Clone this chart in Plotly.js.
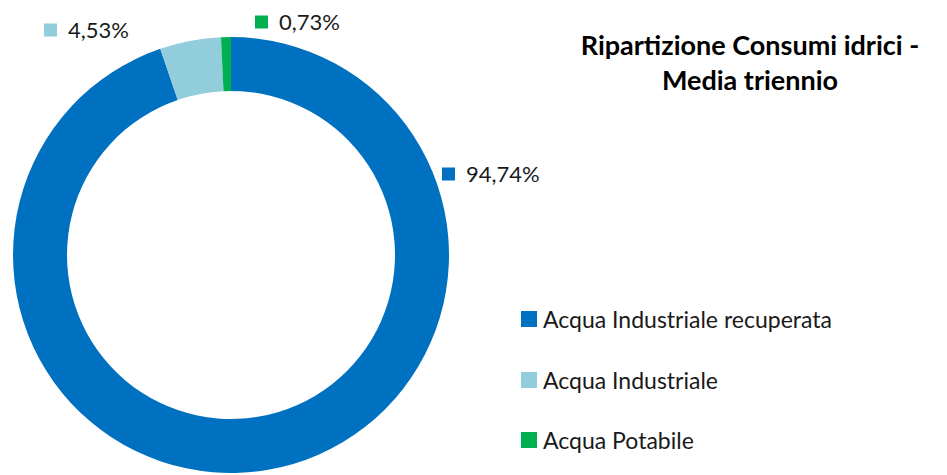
<!DOCTYPE html>
<html>
<head>
<meta charset="utf-8">
<script src="https://cdn.plot.ly/plotly-3.0.1.min.js"></script>
<style>html,body{margin:0;padding:0;background:#fff;}#chart{width:947px;height:475px;}</style>
</head>
<body>
<div id="chart"></div>
<script>
const labels = ['Acqua Industriale recuperata', 'Acqua Industriale', 'Acqua Potabile'];
const values = [94.74, 4.53, 0.73];
const valueText = ['94,74%', '4,53%', '0,73%'];
const colors = ['#0070C0', '#92CDDC', '#00B050'];
const titleText = 'Ripartizione Consumi idrici -<br>Media triennio';

const W = 947, H = 475;
const px = x => x / W;
const py = y => 1 - y / H;
const FONT = 'Lato, "Open Sans", sans-serif';

// pie geometry (pixels)
const cx = 231, cy = 255, R = 218, r = 164;

const trace = {
  type: 'pie',
  labels: labels,
  values: values,
  sort: false,
  direction: 'clockwise',
  rotation: 0,
  hole: r / R,
  textinfo: 'none',
  hoverinfo: 'label+percent',
  marker: {colors: colors, line: {width: 0}},
  showlegend: false,
  domain: {x: [px(cx - R), px(cx + R)], y: [py(cy + R), py(cy - R)]}
};

// data label positions (square left x, center y) and legend rows
const labelPos = [[442, 174], [44, 30], [255, 22]];
const legendPos = [[521, 319], [521, 380], [521, 440]];

const shapes = [], annotations = [];
function addItem(x, y, size, color, text, gap, fs) {
  shapes.push({type: 'rect', xref: 'paper', yref: 'paper',
    x0: px(x), x1: px(x + size), y0: py(y + size / 2), y1: py(y - size / 2),
    fillcolor: color, line: {width: 0}});
  annotations.push({xref: 'paper', yref: 'paper', x: px(x + size + gap), y: py(y),
    xanchor: 'left', yanchor: 'middle', showarrow: false, text: text,
    font: {family: FONT, size: fs, color: '#1a1a1a'}});
}
for (let i = 0; i < labels.length; i++) {
  addItem(labelPos[i][0], labelPos[i][1], 13, colors[i], valueText[i], 9, 22);
  addItem(legendPos[i][0], legendPos[i][1], 16, colors[i], labels[i], 4, 23);
}

const layout = {
  width: W, height: H,
  margin: {l: 0, r: 0, t: 0, b: 0},
  paper_bgcolor: '#fff', plot_bgcolor: '#fff',
  showlegend: false,
  title: {text: titleText, x: px(750), xanchor: 'center', xref: 'paper',
    y: 1 - 55 / H, yref: 'container', yanchor: 'top',
    font: {family: FONT, size: 27, color: '#000', weight: 'bold'}},
  shapes: shapes,
  annotations: annotations
};

Plotly.newPlot('chart', [trace], layout, {displayModeBar: false, staticPlot: true});
</script>
</body>
</html>
